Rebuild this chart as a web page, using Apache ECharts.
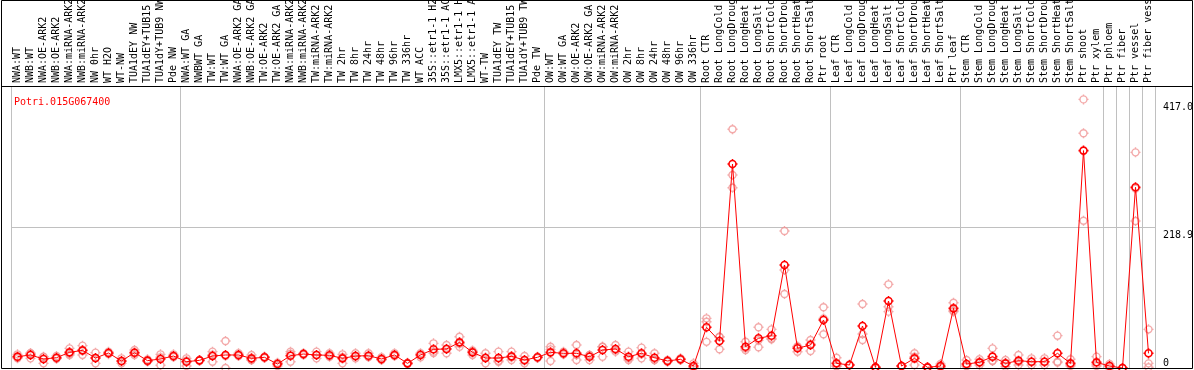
<!DOCTYPE html>
<html><head><meta charset="utf-8">
<script src="https://cdn.jsdelivr.net/npm/echarts@6/dist/echarts.min.js"></script>
<style>html,body{margin:0;padding:0;background:#fff}#c{width:1194px;height:370px}</style>
</head><body><div id="c"></div>
<script>
const geneTitle = 'Potri.015G067400';
const categories = [
'NWA:WT','NWB:WT','NWA:OE-ARK2','NWB:OE-ARK2','NWA:miRNA-ARK2','NWB:miRNA-ARK2','NW 0hr','WT H2O','WT-NW','TUA1dEY NW','TUA1dEY+TUB15','TUA1dY+TUB9 NW','Pde NW',
'NWA:WT GA','NWBWT GA','TW:WT','TW:WT GA','NWA:OE-ARK2 GA','NWB:OE-ARK2 GA','TW:OE-ARK2','TW:OE-ARK2 GA','NWA:miRNA-ARK2','NWB:miRNA-ARK2','TW:miRNA-ARK2','TW:miRNA-ARK2','TW 2hr','TW 8hr','TW 24hr','TW 48hr','TW 96hr','TW 336hr','WT ACC','35S::etr1-1 H2','35S::etr1-1 AC','LMX5::etr1-1 H','LMX5::etr1-1 A','WT-TW','TUA1dEY TW','TUA1dEY+TUB15','TUA1dY+TUB9 TW','Pde TW',
'OW:WT','OW:WT GA','OW:OE-ARK2','OW:OE-ARK2 GA','OW:miRNA-ARK2','OW:miRNA-ARK2','OW 2hr','OW 8hr','OW 24hr','OW 48hr','OW 96hr','OW 336hr',
'Root CTR','Root LongCold','Root LongDroug','Root LongHeat','Root LongSalt','Root ShortCold','Root ShortDrou','Root ShortHeat','Root ShortSalt','Ptr root',
'Leaf CTR','Leaf LongCold','Leaf LongDroug','Leaf LongHeat','Leaf LongSalt','Leaf ShortCold','Leaf ShortDrou','Leaf ShortHeat','Leaf ShortSalt','Ptr leaf',
'Stem CTR','Stem LongCold','Stem LongDroug','Stem LongHeat','Stem LongSalt','Stem ShortCold','Stem ShortDrou','Stem ShortHeat','Stem ShortSalt','Ptr shoot','Ptr xylem',
'Ptr phloem','Ptr fiber','Ptr vessel','Ptr fiber vess'];

const meanValues = [
17.6,20.2,14.0,16.0,24.3,27.4,15.5,23.3,10.9,23.8,11.4,14.0,18.6,
9.8,11.9,18.6,20.2,20.2,15.0,16.6,6.2,19.1,21.7,20.2,19.7,15.0,18.6,19.1,14.0,20.2,7.2,20.2,29.0,29.5,39.8,24.3,15.5,15.5,18.1,12.4,16.6,
24.3,22.8,22.8,17.5,27.9,29.5,17.5,22.8,16.0,10.9,13.5,3.1,
63.2,41.9,316.7,33.1,46.1,50.1,159.9,30.6,35.7,74.5,
7.2,4.7,65.2,1.0,104.0,3.1,15.0,1.0,3.1,92.6,
6.2,8.8,17.6,7.2,11.4,9.8,9.8,22.8,7.2,337.5,8.8,
3.1,0.0,280.5,22.8];

const rep1 = [
21.2,22.8,17.6,18.6,30.5,34.7,23.8,25.4,15.0,27.9,13.4,21.2,21.2,
15.0,12.4,25.4,41.9,22.8,20.2,16.6,7.2,25.4,22.8,25.4,22.8,16.6,22.8,22.8,16.6,22.8,8.0,22.8,38.3,35.7,48.6,25.4,22.8,25.4,25.4,18.6,17.6,
33.1,25.4,35.7,20.2,33.1,35.7,25.4,31.6,22.8,12.4,15.0,7.2,
77.1,48.6,370.6,40.8,63.2,60.0,212.7,33.1,43.5,94.2,
16.0,5.5,99.4,1.0,129.9,3.1,22.8,1.0,6.2,101.4,
12.4,13.5,30.5,12.4,20.2,15.0,15.0,50.2,13.5,417.0,17.6,
6.2,0.0,334.8,60.0];

const rep2 = [
15.0,15.0,7.2,14.5,20.2,20.2,7.2,21.5,7.2,20.2,10.9,16.6,17.6,
3.1,11.4,9.8,0.0,18.6,12.4,15.5,3.1,9.8,20.2,15.0,17.6,7.2,15.0,17.6,12.4,18.6,6.5,16.6,25.4,22.8,33.1,20.2,7.2,9.8,12.4,7.2,15.5,
10.9,21.7,12.4,12.4,17.6,25.4,12.4,15.0,12.4,9.8,12.4,1.0,
71.9,29.0,299.6,27.9,32.1,44.6,152.1,25.3,26.4,52.3,
3.1,4.2,43.5,0.8,95.2,2.5,4.7,0.5,1.5,87.5,
3.1,4.7,10.9,2.1,4.7,4.7,4.7,9.8,3.1,364.4,3.1,
0.0,0.0,228.2,7.2];

const rep3 = [
16.6,22.8,17.2,15.0,22.2,27.3,15.5,23.0,10.5,23.3,10.0,4.2,17.0,
11.3,11.9,20.6,18.7,19.2,12.4,17.7,8.3,22.1,22.1,20.2,18.7,21.2,18.0,16.9,13.0,19.2,7.1,21.2,23.3,30.0,37.7,27.3,16.5,11.3,16.5,11.4,16.7,
28.9,21.3,20.3,19.9,33.0,27.4,14.7,21.8,12.8,10.5,13.1,1.1,
40.6,48.1,279.9,30.6,43.0,45.7,114.9,33.4,37.2,77.0,
2.5,4.4,52.7,1.2,87.5,3.7,17.5,1.5,1.6,88.9,
3.1,8.2,11.4,7.1,9.3,9.7,9.7,8.4,5.0,228.7,5.7,
3.1,0.0,278.5,1.2];

const groupStarts = [0, 13, 41, 53, 63, 73, 84, 85, 86, 87];
const yAxisMax = 437.8;
const yGridStep = 218.9;
const yTickValues = [0, 218.9, 417.0];
const yTickLabels = ['0', '218.9', '417.0'];

const FONT = 'DejaVu Sans Mono';
const markerPath = 'path://M5,1.5C6.933,1.5,8.5,3.067,8.5,5C8.5,6.933,6.933,8.5,5,8.5C3.067,8.5,1.5,6.933,1.5,5C1.5,3.067,3.067,1.5,5,1.5ZM5,0L5,1.5M5,8.5L5,10M0,5L1.5,5M8.5,5L10,5';
const isBoundary = (idx) => groupStarts.indexOf(idx) >= 0;
const tickLabel = (v) => {
  for (let i = 0; i < yTickValues.length; i++) if (Math.abs(yTickValues[i] - v) < 1e-6) return yTickLabels[i];
  return '';
};

const chart = echarts.init(document.getElementById('c'), null, {renderer: 'canvas'});
const repSeries = [rep1, rep2, rep3].map((arr) => ({
  type: 'scatter', data: arr, symbol: markerPath, symbolSize: 10, silent: true, z: 2,
  itemStyle: {color: 'rgba(0,0,0,0)', borderColor: '#f09494', borderWidth: 1.4}
}));
const yCommon = {type: 'value', min: 0, max: yAxisMax, interval: yGridStep, position: 'right',
  axisLine: {show: false}, axisTick: {show: false}};
chart.setOption({
  animation: false,
  backgroundColor: '#fff',
  title: {text: geneTitle, left: 9, top: 92, textStyle: {color: '#ff0000', fontSize: 10, fontWeight: 'normal', fontFamily: FONT}},
  grid: {left: 11, right: 39, top: 86, bottom: 2, outerBoundsMode: 'none', containLabel: false},
  xAxis: {
    type: 'category', data: categories, position: 'top', boundaryGap: true,
    axisLine: {show: true, lineStyle: {color: '#000', width: 1}},
    axisTick: {show: true, length: 86, interval: isBoundary, lineStyle: {color: '#c0c0c0', width: 1}},
    axisLabel: {show: true, interval: 0, rotate: 90, margin: 3, fontSize: 10, fontFamily: FONT, color: '#000'},
    splitLine: {show: true, interval: isBoundary, lineStyle: {color: '#c0c0c0', width: 1}}
  },
  yAxis: [
    Object.assign({}, yCommon, {
      splitLine: {show: true, lineStyle: {color: '#c0c0c0', width: 1}},
      axisLabel: {show: true, customValues: [yTickValues[1], yTickValues[2]], formatter: tickLabel, verticalAlign: 'top', margin: 8, padding: [3,0,0,0], fontSize: 10, fontFamily: FONT, color: '#000'}
    }),
    Object.assign({}, yCommon, {
      splitLine: {show: false},
      axisLabel: {show: true, customValues: [yTickValues[0]], formatter: tickLabel, verticalAlign: 'bottom', margin: 8, fontSize: 10, fontFamily: FONT, color: '#000'}
    })
  ],
  series: repSeries.concat([{
    type: 'line', data: meanValues, yAxisIndex: 0, symbol: markerPath, symbolSize: 10, showAllSymbol: true, silent: true, z: 3,
    lineStyle: {color: '#ff0000', width: 1},
    itemStyle: {color: 'rgba(0,0,0,0)', borderColor: '#ff0000', borderWidth: 1.6}
  }]),
  graphic: [
    {type: 'rect', silent: true, z: 100, shape: {x: 1.5, y: 0.5, width: 1191, height: 368}, style: {fill: null, stroke: '#000', lineWidth: 1}},
    {type: 'rect', silent: true, z: 100, shape: {x: 1, y: 86, width: 1192, height: 1}, style: {fill: '#000'}}
  ]
});
</script></body></html>
